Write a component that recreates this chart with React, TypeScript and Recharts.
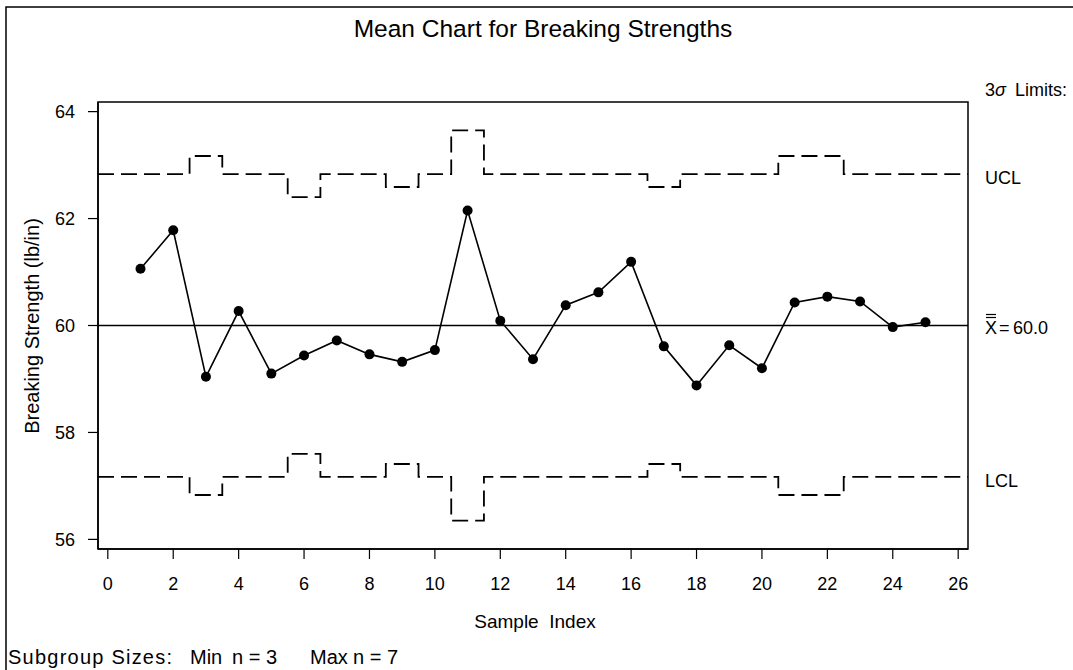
import { ComposedChart, Line, ReferenceArea, ReferenceLine, XAxis, YAxis } from "recharts";

const SAMPLES = [1, 2, 3, 4, 5, 6, 7, 8, 9, 10, 11, 12, 13, 14, 15, 16, 17, 18, 19, 20, 21, 22, 23, 24, 25];

const MEANS = [
  61.06, 61.78, 59.04, 60.27, 59.1, 59.44, 59.72, 59.46, 59.32, 59.54, 62.15, 60.09, 59.37, 60.38, 60.62,
  61.19, 59.61, 58.88, 59.63, 59.2, 60.43, 60.54, 60.45, 59.97, 60.06,
];

const UCL = [
  62.83, 62.83, 63.17, 62.83, 62.83, 62.4, 62.83, 62.83, 62.59, 62.83, 63.65, 62.83, 62.83, 62.83, 62.83,
  62.83, 62.59, 62.83, 62.83, 62.83, 63.17, 63.17, 62.83, 62.83, 62.83,
];

const LCL = [
  57.17, 57.17, 56.83, 57.17, 57.17, 57.6, 57.17, 57.17, 57.41, 57.17, 56.35, 57.17, 57.17, 57.17, 57.17,
  57.17, 57.41, 57.17, 57.17, 57.17, 56.83, 56.83, 57.17, 57.17, 57.17,
];

const CENTER = 60;
const X_TICKS = [0, 2, 4, 6, 8, 10, 12, 14, 16, 18, 20, 22, 24, 26];
const Y_TICKS = [56, 58, 60, 62, 64];
const X_DOMAIN: [number, number] = [-0.3, 26.3];
const Y_DOMAIN: [number, number] = [55.82, 64.18];

const FONT = "'Liberation Sans', Arial, Helvetica, sans-serif";

// step outline of a limit: each subgroup owns x in [i-0.5, i+0.5]
function stepData(limits: number[]) {
  const pts = [{ x: X_DOMAIN[0], v: limits[0] }];
  SAMPLES.forEach((s, i) => {
    if (i > 0) pts.push({ x: s - 0.5, v: limits[i] });
  });
  pts.push({ x: X_DOMAIN[1], v: limits[limits.length - 1] });
  return pts;
}

const meanData = SAMPLES.map((s, i) => ({ x: s, v: MEANS[i] }));
const uclData = stepData(UCL);
const lclData = stepData(LCL);

function SideLabel({ viewBox, text }: any) {
  const x = viewBox.x + viewBox.width + 17;
  const y = viewBox.y;
  return (
    <text x={x} y={y + 10} fontSize={18} fontFamily={FONT} fill="#000">
      {text}
    </text>
  );
}

function CenterLabel({ viewBox }: any) {
  const x = viewBox.x + viewBox.width + 17;
  const y = viewBox.y + 8;
  return (
    <g fontFamily={FONT} fontSize={18} fill="#000">
      <text x={x} y={y}>X</text>
      <line x1={x + 1} x2={x + 11} y1={y - 16} y2={y - 16} stroke="#000" strokeWidth={1.2} />
      <line x1={x + 1} x2={x + 11} y1={y - 19} y2={y - 19} stroke="#000" strokeWidth={1.2} />
      <text x={x + 14} y={y}>=</text>
      <text x={x + 28} y={y}>60.0</text>
    </g>
  );
}

export default function App() {
  const tick = { fill: "#000", fontSize: 18, fontFamily: FONT };
  return (
    <div style={{ position: "relative", width: 1073, height: 670, background: "#fff" }}>
      <style>{`body{margin:0}`}</style>
      <ComposedChart width={1073} height={670} margin={{ top: 102, right: 105, bottom: 81, left: 38 }}>
        <XAxis
          type="number"
          dataKey="x"
          domain={X_DOMAIN}
          ticks={X_TICKS}
          allowDataOverflow
          height={40}
          tickSize={10}
          tickMargin={18}
          axisLine={{ stroke: "#000", strokeWidth: 1.5 }}
          tickLine={{ stroke: "#000", strokeWidth: 1.2 }}
          tick={tick}
        />
        <YAxis
          type="number"
          domain={Y_DOMAIN}
          ticks={Y_TICKS}
          allowDataOverflow
          width={60}
          tickSize={10}
          tickMargin={13}
          axisLine={{ stroke: "#000", strokeWidth: 1.5 }}
          tickLine={{ stroke: "#000", strokeWidth: 1.2 }}
          tick={tick}
        />
        <ReferenceArea
          x1={X_DOMAIN[0]}
          x2={X_DOMAIN[1]}
          y1={Y_DOMAIN[0]}
          y2={Y_DOMAIN[1]}
          fill="none"
          fillOpacity={0}
          stroke="#000"
          strokeWidth={1.5}
        />
        <ReferenceLine y={CENTER} stroke="#000" strokeWidth={1.5} label={(p: any) => <CenterLabel {...p} />} />
        <ReferenceLine
          y={UCL[UCL.length - 1]}
          stroke="none"
          label={(p: any) => <SideLabel {...p} text="UCL" />}
        />
        <ReferenceLine
          y={LCL[LCL.length - 1]}
          stroke="none"
          label={(p: any) => <SideLabel {...p} text="LCL" />}
        />
        <Line
          data={uclData}
          dataKey="v"
          type="stepAfter"
          stroke="#000"
          strokeWidth={1.8}
          strokeDasharray="16 7"
          dot={false}
          isAnimationActive={false}
        />
        <Line
          data={lclData}
          dataKey="v"
          type="stepAfter"
          stroke="#000"
          strokeWidth={1.8}
          strokeDasharray="16 7"
          dot={false}
          isAnimationActive={false}
        />
        <Line
          data={meanData}
          dataKey="v"
          type="linear"
          stroke="#000"
          strokeWidth={1.6}
          dot={{ r: 5, fill: "#000", stroke: "#000", strokeWidth: 0 }}
          isAnimationActive={false}
        />
      </ComposedChart>
      <svg
        width={1073}
        height={670}
        style={{ position: "absolute", left: 0, top: 0, pointerEvents: "none", overflow: "hidden" }}
        fontFamily={FONT}
      >
        <rect x={6} y={7} width={1200} height={1000} fill="none" stroke="#000" strokeWidth={1.5} />
        <text x={543} y={37} textAnchor="middle" fontSize={24.5} fill="#000">
          Mean Chart for Breaking Strengths
        </text>
        <text x={985} y={96} fontSize={18} fill="#000">
          3<tspan fontStyle="italic">σ</tspan>
          <tspan dx={9}>Limits:</tspan>
        </text>
        <text
          x={32}
          y={326}
          transform="rotate(-90 32 326)"
          textAnchor="middle"
          dominantBaseline="central"
          fontSize={20}
          fill="#000"
        >
          Breaking Strength (lb/in)
        </text>
        <text x={535} y={628} textAnchor="middle" fontSize={19} fill="#000" style={{ whiteSpace: "pre" }}>
          Sample  Index
        </text>
        <text y={664} fontSize={20} fill="#000" style={{ whiteSpace: "pre" }}>
          <tspan x={8} textLength={164} lengthAdjust="spacing">
            Subgroup Sizes:
          </tspan>
          <tspan x={190}>Min</tspan>
          <tspan x={232}>n = 3</tspan>
          <tspan x={310}>Max</tspan>
          <tspan x={353}>n = 7</tspan>
        </text>
      </svg>
    </div>
  );
}
